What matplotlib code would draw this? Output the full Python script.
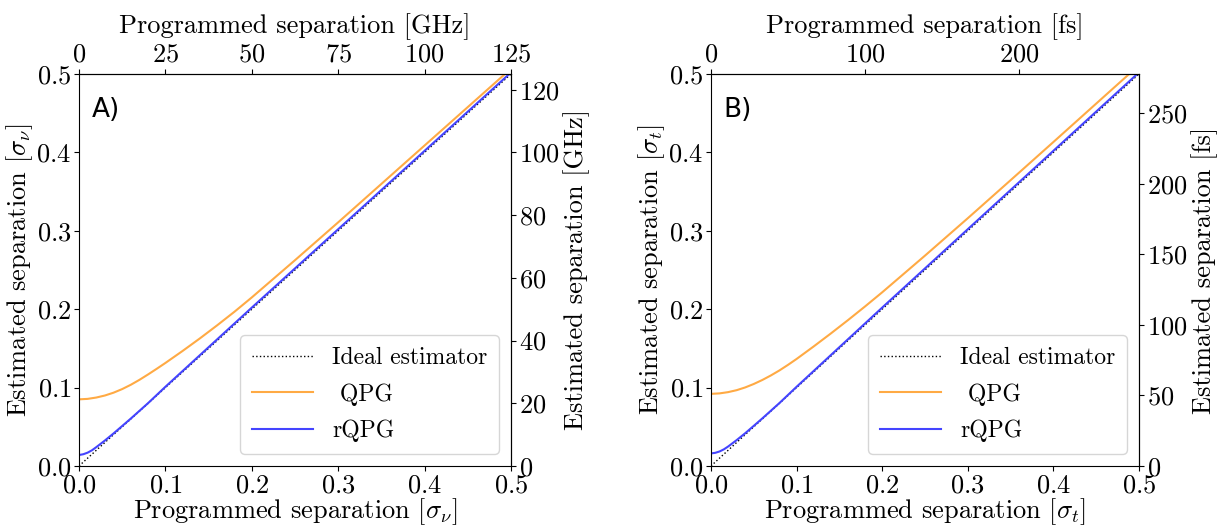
import matplotlib
matplotlib.use("Agg")
import matplotlib.pyplot as plt

plt.rcParams["font.family"] = "serif"
plt.rcParams["font.serif"] = ["cmr10", "DejaVu Serif"]
plt.rcParams["mathtext.fontset"] = "cm"
plt.rcParams["axes.formatter.use_mathtext"] = True
plt.rcParams["font.size"] = 19

# programmed separation (units of sigma) where curves were read
x_qpg = [0.0, 0.01, 0.02, 0.03, 0.04, 0.05, 0.06, 0.07, 0.08, 0.09, 0.10,
         0.12, 0.14, 0.16, 0.18, 0.20, 0.25, 0.30, 0.35, 0.40, 0.45, 0.50]
x_rqpg = [0.0, 0.005, 0.01, 0.015, 0.02, 0.03, 0.04, 0.05, 0.06, 0.08, 0.10,
          0.15, 0.20, 0.30, 0.40, 0.50]
x_ideal = [0.0, 0.5]

# panel A (frequency)
qpg_a = [0.085, 0.0856, 0.0873, 0.0899, 0.0935, 0.0981, 0.1036, 0.1099, 0.1168,
         0.1240, 0.1314, 0.1468, 0.1628, 0.1795, 0.1968, 0.2150, 0.2625, 0.3108,
         0.3598, 0.4088, 0.4578, 0.5068]
rqpg_a = [0.014, 0.0150, 0.0170, 0.0200, 0.0240, 0.0325, 0.0415, 0.0510, 0.0605,
          0.0802, 0.1010, 0.1515, 0.2020, 0.3020, 0.4020, 0.5020]

# panel B (time)
qpg_b = [0.092, 0.0926, 0.0942, 0.0967, 0.1002, 0.1046, 0.1097, 0.1155, 0.1219,
         0.1290, 0.1365, 0.1525, 0.1690, 0.1860, 0.2035, 0.2215, 0.2683, 0.3160,
         0.3645, 0.4132, 0.4622, 0.5112]
rqpg_b = [0.016, 0.0168, 0.0185, 0.0212, 0.0248, 0.0330, 0.0418, 0.0512, 0.0607,
          0.0803, 0.1010, 0.1515, 0.2020, 0.3020, 0.4020, 0.5020]

# conversion of 0.5 sigma to physical units
scale_a = 125 / 0.5   # GHz per sigma_nu
scale_b = 278 / 0.5   # fs per sigma_t

fig = plt.figure(figsize=(12.17, 5.25), dpi=100)
ax_a = fig.add_axes([0.0649, 0.1124, 0.355, 0.7467])
ax_b = fig.add_axes([0.5842, 0.1124, 0.3517, 0.7467])

panels = [
    (ax_a, qpg_a, rqpg_a, scale_a, "A)", r"$\sigma_\nu$", "GHz", [0, 25, 50, 75, 100, 125],
     [0, 20, 40, 60, 80, 100, 120]),
    (ax_b, qpg_b, rqpg_b, scale_b, "B)", r"$\sigma_t$", "fs", [0, 100, 200],
     [0, 50, 100, 150, 200, 250]),
]

for ax, qpg, rqpg, sc, tag, sym, unit, top_ticks, right_ticks in panels:
    ax.plot(x_ideal, x_ideal, color="black", linestyle=":", linewidth=1, label="Ideal estimator")
    ax.plot(x_qpg, qpg, color="#FFAA44", linewidth=1.5, label=" QPG")
    ax.plot(x_rqpg, rqpg, color="#4444FF", linewidth=1.5, label="rQPG")
    ax.set_xlim(0, 0.5)
    ax.set_ylim(0, 0.5)
    ax.tick_params(pad=2)
    ax.set_xlabel("Programmed separation [" + sym + "]", labelpad=-1)
    ax.set_ylabel("Estimated separation [" + sym + "]", labelpad=1)
    ax.text(0.03, 0.94, tag, transform=ax.transAxes, family="DejaVu Sans",
            fontsize=19, va="top")
    ax.legend(loc="lower right", fontsize=17, handlelength=2.6, borderpad=0.5,
              labelspacing=0.6)

    top = ax.secondary_xaxis("top", functions=(lambda v, s=sc: v * s, lambda v, s=sc: v / s))
    top.set_xticks(top_ticks)
    top.tick_params(pad=2)
    top.set_xlabel("Programmed separation [" + unit + "]", labelpad=7)
    right = ax.secondary_yaxis("right", functions=(lambda v, s=sc: v * s, lambda v, s=sc: v / s))
    right.set_yticks(right_ticks)
    right.tick_params(pad=2)
    right.set_ylabel("Estimated separation [" + unit + "]", labelpad=3)

fig.savefig("out.png", dpi=100)
